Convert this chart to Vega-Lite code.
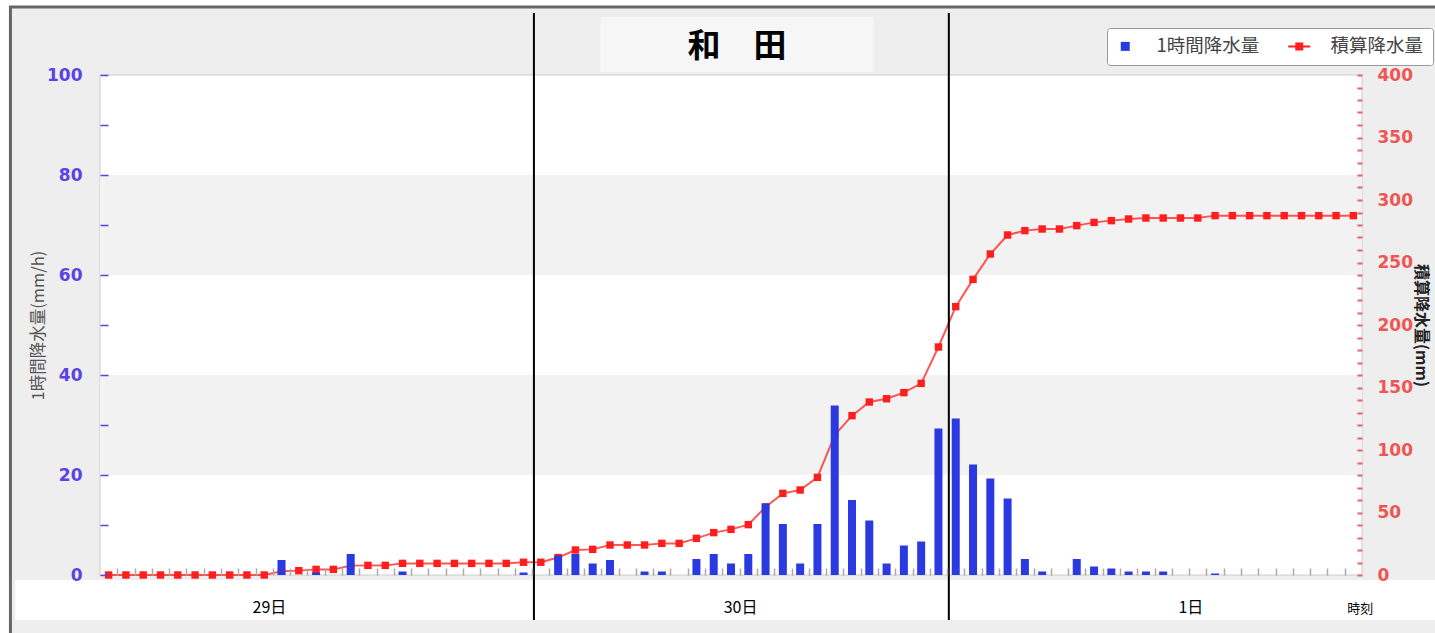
{
  "$schema": "https://vega.github.io/schema/vega-lite/v6.json",
  "width": 1262,
  "height": 500,
  "autosize": "none",
  "padding": {"left": 100, "top": 75, "right": 73, "bottom": 58},
  "background": "white",
  "config": {"view": {"stroke": null}, "scale": {"continuousPadding": 0}},
  "datasets": {
    "rain": [
      {"slot": 0, "rain": 0, "cum": 0}, {"slot": 1, "rain": 0, "cum": 0}, {"slot": 2, "rain": 0, "cum": 0},
      {"slot": 3, "rain": 0, "cum": 0}, {"slot": 4, "rain": 0, "cum": 0}, {"slot": 5, "rain": 0, "cum": 0},
      {"slot": 6, "rain": 0, "cum": 0}, {"slot": 7, "rain": 0, "cum": 0}, {"slot": 8, "rain": 0, "cum": 0},
      {"slot": 9, "rain": 0, "cum": 0}, {"slot": 10, "rain": 3.0, "cum": 3.0}, {"slot": 11, "rain": 0, "cum": 3.5},
      {"slot": 12, "rain": 0.5, "cum": 4.5}, {"slot": 13, "rain": 0, "cum": 4.5}, {"slot": 14, "rain": 4.2, "cum": 7.5},
      {"slot": 15, "rain": 0, "cum": 7.7}, {"slot": 16, "rain": 0, "cum": 7.7}, {"slot": 17, "rain": 0.7, "cum": 9.3},
      {"slot": 18, "rain": 0, "cum": 9.3}, {"slot": 19, "rain": 0, "cum": 9.3}, {"slot": 20, "rain": 0, "cum": 9.3},
      {"slot": 21, "rain": 0, "cum": 9.3}, {"slot": 22, "rain": 0, "cum": 9.3}, {"slot": 23, "rain": 0, "cum": 9.3},
      {"slot": 24, "rain": 0.5, "cum": 10.2}, {"slot": 25, "rain": 0, "cum": 10.2}, {"slot": 26, "rain": 3.9, "cum": 14.0},
      {"slot": 27, "rain": 4.2, "cum": 20.0}, {"slot": 28, "rain": 2.3, "cum": 20.5}, {"slot": 29, "rain": 3.0, "cum": 24.0},
      {"slot": 30, "rain": 0, "cum": 24.0}, {"slot": 31, "rain": 0.7, "cum": 24.0}, {"slot": 32, "rain": 0.7, "cum": 25.3},
      {"slot": 33, "rain": 0, "cum": 25.3}, {"slot": 34, "rain": 3.2, "cum": 29.3}, {"slot": 35, "rain": 4.2, "cum": 33.9},
      {"slot": 36, "rain": 2.3, "cum": 36.5}, {"slot": 37, "rain": 4.2, "cum": 40.3}, {"slot": 38, "rain": 14.3, "cum": 54.5},
      {"slot": 39, "rain": 10.2, "cum": 65.3}, {"slot": 40, "rain": 2.3, "cum": 68.0}, {"slot": 41, "rain": 10.2, "cum": 78.1},
      {"slot": 42, "rain": 33.9, "cum": 112.0}, {"slot": 43, "rain": 15.0, "cum": 127.5}, {"slot": 44, "rain": 10.9, "cum": 138.4},
      {"slot": 45, "rain": 2.3, "cum": 141.0}, {"slot": 46, "rain": 5.9, "cum": 145.9}, {"slot": 47, "rain": 6.7, "cum": 153.3},
      {"slot": 48, "rain": 29.3, "cum": 182.4}, {"slot": 49, "rain": 31.3, "cum": 214.7}, {"slot": 50, "rain": 22.1, "cum": 236.5},
      {"slot": 51, "rain": 19.3, "cum": 256.8}, {"slot": 52, "rain": 15.3, "cum": 272.0}, {"slot": 53, "rain": 3.2, "cum": 275.5},
      {"slot": 54, "rain": 0.7, "cum": 276.8}, {"slot": 55, "rain": 0, "cum": 276.8}, {"slot": 56, "rain": 3.2, "cum": 279.5},
      {"slot": 57, "rain": 1.7, "cum": 282.1}, {"slot": 58, "rain": 1.3, "cum": 283.5}, {"slot": 59, "rain": 0.7, "cum": 284.8},
      {"slot": 60, "rain": 0.7, "cum": 285.6}, {"slot": 61, "rain": 0.7, "cum": 285.6}, {"slot": 62, "rain": 0, "cum": 285.6},
      {"slot": 63, "rain": 0, "cum": 285.6}, {"slot": 64, "rain": 0.3, "cum": 287.5}, {"slot": 65, "rain": 0, "cum": 287.5},
      {"slot": 66, "rain": 0, "cum": 287.5}, {"slot": 67, "rain": 0, "cum": 287.5}, {"slot": 68, "rain": 0, "cum": 287.5},
      {"slot": 69, "rain": 0, "cum": 287.5}, {"slot": 70, "rain": 0, "cum": 287.5}, {"slot": 71, "rain": 0, "cum": 287.5},
      {"slot": 72, "rain": 0, "cum": 287.5}
    ],
    "one": [{}]
  },
  "data": {"name": "rain"},
  "resolve": {"scale": {"y": "independent"}},
  "layer": [
    {
      "data": {"name": "one"},
      "layer": [
        {
          "mark": {"type": "rect", "fill": "#eeeeee", "stroke": "#666666", "strokeWidth": 3, "clip": false},
          "encoding": {
            "x": {"datum": -5.68, "type": "quantitative", "scale": {"domain": [-0.5, 72.5], "nice": false, "zero": false, "padding": 0}},
            "x2": {"datum": 80},
            "y": {"datum": 113.6, "type": "quantitative", "scale": {"domain": [0, 100], "nice": false}, "axis": null},
            "y2": {"datum": -14}
          }
        },
        {
          "mark": {"type": "rect", "fill": "white", "clip": false},
          "encoding": {
            "x": {"datum": -5.4, "type": "quantitative"},
            "x2": {"datum": 80},
            "y": {"datum": -1, "type": "quantitative"},
            "y2": {"datum": -9}
          }
        },
        {
          "mark": {"type": "rect", "fill": "white", "stroke": "#cccccc", "strokeWidth": 1},
          "encoding": {
            "x": {"datum": -0.5, "type": "quantitative"},
            "x2": {"datum": 72.5},
            "y": {"datum": 0, "type": "quantitative"},
            "y2": {"datum": 100}
          }
        },
        {
          "mark": {"type": "rect", "fill": "#f2f2f2"},
          "encoding": {
            "x": {"datum": -0.5, "type": "quantitative"},
            "x2": {"datum": 72.5},
            "y": {"datum": 20, "type": "quantitative"},
            "y2": {"datum": 40}
          }
        },
        {
          "mark": {"type": "rect", "fill": "#f2f2f2"},
          "encoding": {
            "x": {"datum": -0.5, "type": "quantitative"},
            "x2": {"datum": 72.5},
            "y": {"datum": 60, "type": "quantitative"},
            "y2": {"datum": 80}
          }
        },
        {
          "mark": {"type": "rect", "fill": "#f6f6f6", "clip": false},
          "encoding": {
            "x": {"datum": 28.45, "type": "quantitative"},
            "x2": {"datum": 44.25},
            "y": {"datum": 100.6, "type": "quantitative"},
            "y2": {"datum": 111.6}
          }
        },
        {
          "mark": {"type": "text", "text": "和　田", "font": "Noto Sans CJK JP", "fontSize": 33, "fontWeight": "bold", "color": "black", "align": "center", "baseline": "middle", "clip": false},
          "encoding": {
            "x": {"datum": 36.35, "type": "quantitative"},
            "y": {"datum": 105.6, "type": "quantitative"}
          }
        }
      ]
    },
    {
      "layer": [
        {
          "mark": {"type": "line", "strokeWidth": 2, "opacity": 0.75, "clip": false},
          "encoding": {
            "x": {"field": "slot", "type": "quantitative"},
            "y": {
              "field": "cum", "type": "quantitative",
              "scale": {"domain": [0, 400], "nice": false},
              "axis": {
                "orient": "right",
                "zindex": 2,
                "title": "積算降水量(mm)",
                "titleFont": "Noto Sans CJK JP",
                "titleFontSize": 16,
                "titleFontWeight": "bold",
                "titleColor": "#222222",
                "titlePadding": 0,
                "tickCount": 500,
                "format": "d",
                "values": [0,10,20,30,40,50,60,70,80,90,100,110,120,130,140,150,160,170,180,190,200,210,220,230,240,250,260,270,280,290,300,310,320,330,340,350,360,370,380,390,400],
                "labelExpr": "datum.value % 50 === 0 ? datum.label : ''",
                "labelOverlap": false,
                "labelFont": "DejaVu Sans",
                "labelFontSize": 17,
                "labelFontWeight": "bold",
                "labelColor": "#ee5555",
                "labelPadding": 20,
                "tickColor": "#ee6060",
                "tickWidth": 2,
                "tickSize": -5,
                "domain": false,
                "grid": false
              }
            },
            "color": {"datum": "積算降水量"}
          }
        },
        {
          "mark": {"type": "point", "shape": "square", "filled": true, "size": 55, "opacity": 1, "clip": false},
          "encoding": {
            "x": {"field": "slot", "type": "quantitative"},
            "y": {"field": "cum", "type": "quantitative"},
            "color": {"datum": "積算降水量"}
          }
        }
      ]
    },
    {
      "layer": [
        {
          "mark": {"type": "bar", "size": 8, "orient": "vertical"},
          "encoding": {
            "x": {
              "field": "slot", "type": "quantitative",
              "axis": {
                "zindex": 2,
                "tickCount": 500,
                "values": [0.5,1.5,2.5,3.5,4.5,5.5,6.5,7.5,8.5,9.5,10.5,11.5,12.5,13.5,14.5,15.5,16.5,17.5,18.5,19.5,20.5,21.5,22.5,23.5,24.5,25.5,26.5,27.5,28.5,29.5,30.5,31.5,32.5,33.5,34.5,35.5,36.5,37.5,38.5,39.5,40.5,41.5,42.5,43.5,44.5,45.5,46.5,47.5,48.5,49.5,50.5,51.5,52.5,53.5,54.5,55.5,56.5,57.5,58.5,59.5,60.5,61.5,62.5,63.5,64.5,65.5,66.5,67.5,68.5,69.5,70.5,71.5],
                "labels": false,
                "title": null,
                "domain": false,
                "grid": false,
                "tickColor": "#aaaaaa",
                "tickSize": -7,
                "tickWidth": 1.5
              }
            },
            "y": {
              "field": "rain", "type": "quantitative",
              "scale": {"domain": [0, 100], "nice": false},
              "axis": {
                "orient": "left",
                "zindex": 2,
                "title": "1時間降水量(mm/h)",
                "titleFont": "Noto Sans CJK JP",
                "titleFontSize": 16.5,
                "titleFontWeight": "normal",
                "titleColor": "#555555",
                "titlePadding": 0,
                "tickCount": 500,
                "format": "d",
                "values": [0,10,20,30,40,50,60,70,80,90,100],
                "labelExpr": "datum.value % 20 === 0 ? datum.label : ''",
                "labelOverlap": false,
                "labelFont": "DejaVu Sans",
                "labelFontSize": 17,
                "labelFontWeight": "bold",
                "labelColor": "#5b42e3",
                "labelPadding": 26,
                "tickColor": "#5b42e3",
                "tickWidth": 1.5,
                "tickSize": -8,
                "domain": false,
                "grid": false
              }
            },
            "color": {
              "datum": "1時間降水量",
              "scale": {"domain": ["1時間降水量", "積算降水量"], "range": ["#2a3ae0", "#ff1e1e"]},
              "legend": {
                "title": null,
                "orient": "none",
                "legendX": 1007,
                "legendY": -47,
                "direction": "horizontal",
                "fillColor": "white",
                "strokeColor": "#999999",
                "cornerRadius": 3,
                "padding": 9,
                "columnPadding": 28,
                "labelOffset": 22,
                "labelFont": "Noto Sans CJK JP",
                "labelFontSize": 18.5,
                "labelColor": "#444444",
                "symbolSize": 100,
                "symbolStrokeWidth": 0,
                "symbolOpacity": 1,
                "encode": {
                  "symbols": {
                    "update": {
                      "shape": {"signal": "datum.value === '積算降水量' ? 'M-2.2,-0.2H2.2V0.2H-2.2Z M-0.8,-0.8H0.8V0.8H-0.8Z' : 'M-0.9,-0.9H0.9V0.9H-0.9Z'"},
                      "fill": {"signal": "datum.value === '積算降水量' ? '#ff1e1e' : '#5a9be8'"},
                      "stroke": {"value": "transparent"},
                      "opacity": {"value": 1}
                    }
                  }
                }
              }
            }
          }
        },
        {
          "data": {"name": "one"},
          "layer": [
            {
              "mark": {"type": "rule", "color": "black", "strokeWidth": 2, "clip": false},
              "encoding": {
                "x": {"datum": 24.6, "type": "quantitative"},
                "y": {"datum": -9, "type": "quantitative"},
                "y2": {"datum": 112.4}
              }
            },
            {
              "mark": {"type": "rule", "color": "black", "strokeWidth": 2, "clip": false},
              "encoding": {
                "x": {"datum": 48.6, "type": "quantitative"},
                "y": {"datum": -9, "type": "quantitative"},
                "y2": {"datum": 112.4}
              }
            },
            {
              "mark": {"type": "text", "text": "29日", "font": "Noto Sans CJK JP", "fontSize": 16, "color": "black", "align": "center", "baseline": "middle", "clip": false},
              "encoding": {"x": {"datum": 9.3, "type": "quantitative"}, "y": {"datum": -6.5, "type": "quantitative"}}
            },
            {
              "mark": {"type": "text", "text": "30日", "font": "Noto Sans CJK JP", "fontSize": 16, "color": "black", "align": "center", "baseline": "middle", "clip": false},
              "encoding": {"x": {"datum": 36.55, "type": "quantitative"}, "y": {"datum": -6.5, "type": "quantitative"}}
            },
            {
              "mark": {"type": "text", "text": "1日", "font": "Noto Sans CJK JP", "fontSize": 16, "color": "black", "align": "center", "baseline": "middle", "clip": false},
              "encoding": {"x": {"datum": 62.6, "type": "quantitative"}, "y": {"datum": -6.5, "type": "quantitative"}}
            },
            {
              "mark": {"type": "text", "text": "時刻", "font": "Noto Sans CJK JP", "fontSize": 13, "color": "black", "align": "center", "baseline": "middle", "clip": false},
              "encoding": {"x": {"datum": 72.4, "type": "quantitative"}, "y": {"datum": -6.8, "type": "quantitative"}}
            }
          ]
        }
      ]
    }
  ]
}
